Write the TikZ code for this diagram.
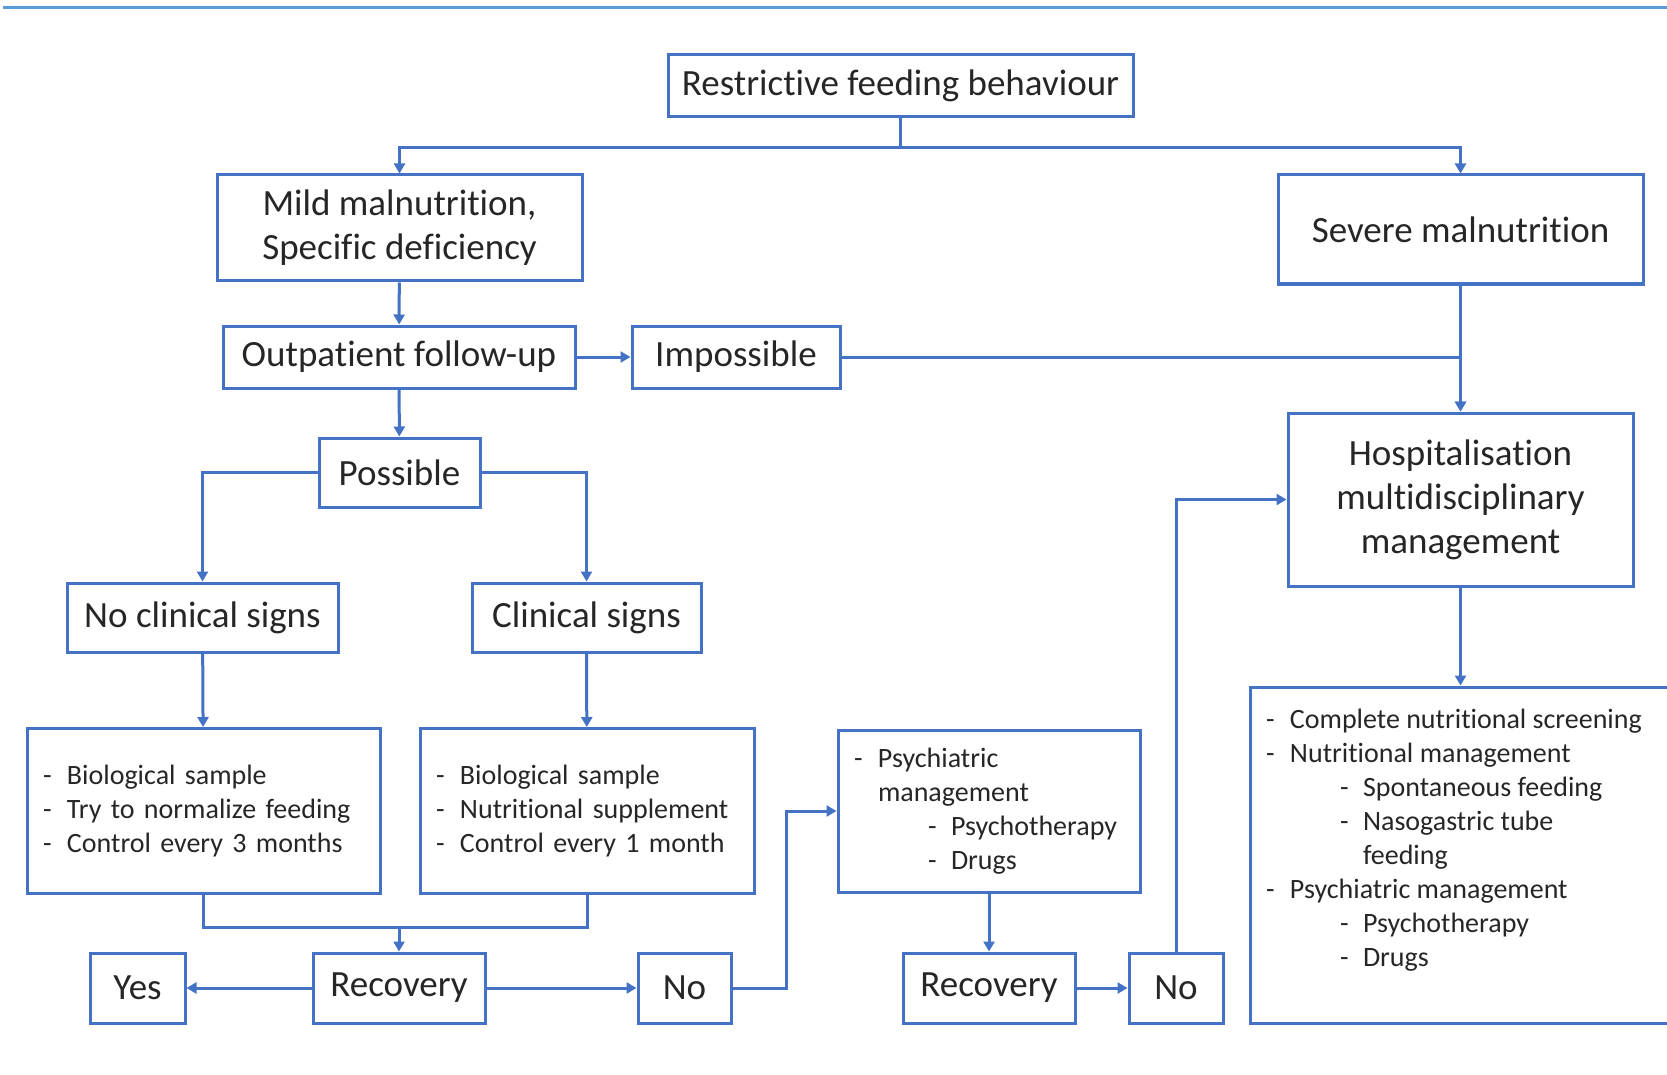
\documentclass[tikz,border=0pt]{standalone}
\usepackage{fontspec}
\setmainfont{Carlito}[Ligatures=NoCommon]
\usetikzlibrary{arrows.meta}
\definecolor{boxblue}{RGB}{68,114,196}
\definecolor{ruleblue}{RGB}{91,155,213}
\definecolor{inkgray}{RGB}{38,38,38}
\tikzstyle{box}=[draw=boxblue,line width=3pt,inner sep=0pt,align=center,text=inkgray,font=\fontsize{37}{44}\selectfont]
\tikzstyle{listbox}=[box,align=left,inner xsep=16pt,font=\fontsize{28}{34}\selectfont]
\tikzstyle{link}=[draw=boxblue,line width=3pt,>={Triangle[length=10pt,width=11pt]}]
\newcommand{\lstitem}[1]{\makebox[24pt][l]{-}#1}
\newcommand{\lstsub}[1]{\hspace*{74pt}\makebox[23pt][l]{-}#1}
\newcommand{\lstmore}[1]{\hspace*{24pt}#1}
\newcommand{\lstsubmore}[1]{\hspace*{97pt}#1}

\begin{document}
\begin{tikzpicture}[x=1pt,y=-1pt]
\useasboundingbox (0, 0) rectangle (1667, 1075);
\draw[ruleblue, line width=3pt] (3, 8) -- (1667, 8);
% top of the tree
\node[box, minimum width=465, minimum height=62] at (900.5, 86) (restr) {Restrictive feeding behaviour};
\node[box, minimum width=365, minimum height=106] at (399.5, 228) (mild) {Mild malnutrition,\\Specific deficiency};
\node[box, minimum width=365, minimum height=109] at (1460.5, 229.5) (severe) {Severe malnutrition};
\node[box, minimum width=352, minimum height=62] at (399, 357) (outp) {Outpatient follow-up};
\node[box, minimum width=208, minimum height=62] at (736, 357) (imposs) {Impossible};
\node[box, minimum width=345, minimum height=173] at (1460.5, 499.5) (hosp) {Hospitalisation\\multidisciplinary\\management};
\node[box, minimum width=161, minimum height=69] at (399.5, 472.5) (poss) {Possible};
\node[box, minimum width=271, minimum height=69] at (202.5, 617.5) (nocl) {No clinical signs};
\node[box, minimum width=229, minimum height=69] at (586.5, 617.5) (clin) {Clinical signs};
% lists
\node[listbox, minimum width=353, minimum height=165, text width=321] at (203.5, 811) (lista) {\lstitem{Biological sample}\\\lstitem{Try to normalize feeding}\\\lstitem{Control every 3 months}};
\node[listbox, minimum width=334, minimum height=165, text width=302] at (587, 811) (listb) {\lstitem{Biological sample}\\\lstitem{Nutritional supplement}\\\lstitem{Control every 1 month}};
\node[listbox, minimum width=302, minimum height=162, text width=270] at (989, 811) (psych) {\lstitem{Psychiatric}\\\lstmore{management}\\\lstsub{Psychotherapy}\\\lstsub{Drugs}};
\node[listbox, minimum width=422, minimum height=336, inner ysep=12pt] at (1461, 855) (listc) {\parbox[c][312pt][t]{390pt}{\vspace*{10pt}\lstitem{Complete nutritional screening}\\\lstitem{Nutritional management}\\\lstsub{Spontaneous feeding}\\\lstsub{Nasogastric tube}\\\lstsubmore{feeding}\\\lstitem{Psychiatric management}\\\lstsub{Psychotherapy}\\\lstsub{Drugs}}};
% bottom row
\node[box, minimum width=95, minimum height=70] at (137.5, 988) (yes) {Yes};
\node[box, minimum width=172, minimum height=70] at (399, 988) (reca) {Recovery};
\node[box, minimum width=93, minimum height=70] at (684.5, 988) (noa) {No};
\node[box, minimum width=172, minimum height=70] at (989, 988) (recb) {Recovery};
\node[box, minimum width=94, minimum height=70] at (1176, 988) (nob) {No};
% connectors
\draw[link, ->] (restr.south) -- ++(0, 29) -| (mild.north);
\draw[link, ->] (restr.south) -- ++(0, 29) -| (severe.north);
\draw[link, ->] (mild) -- (outp);
\draw[link, ->] (outp) -- (imposs);
\draw[link, ->] (imposs.east) -| (hosp.north);
\draw[link, ->] (severe) -- (hosp);
\draw[link, ->] (outp) -- (poss);
\draw[link, ->] (poss.west) -| (nocl.north);
\draw[link, ->] (poss.east) -| (clin.north);
\draw[link, ->] (nocl) -- (lista);
\draw[link, ->] (clin) -- (listb);
\draw[link] (lista.south) -- ++(0, 32) coordinate (join) -| (listb.south);
\draw[link, ->] (join -| reca.north) -- (reca.north);
\draw[link, ->] (reca) -- (yes);
\draw[link, ->] (reca) -- (noa);
\draw[link, ->] (noa.east) -- ++(54, 0) |- (psych.west);
\draw[link, ->] (psych) -- (recb);
\draw[link, ->] (recb) -- (nob);
\draw[link, ->] (nob.north) |- (hosp.west);
\draw[link, ->] (hosp.south) -- (hosp.south |- listc.north);
\end{tikzpicture}
\end{document}
